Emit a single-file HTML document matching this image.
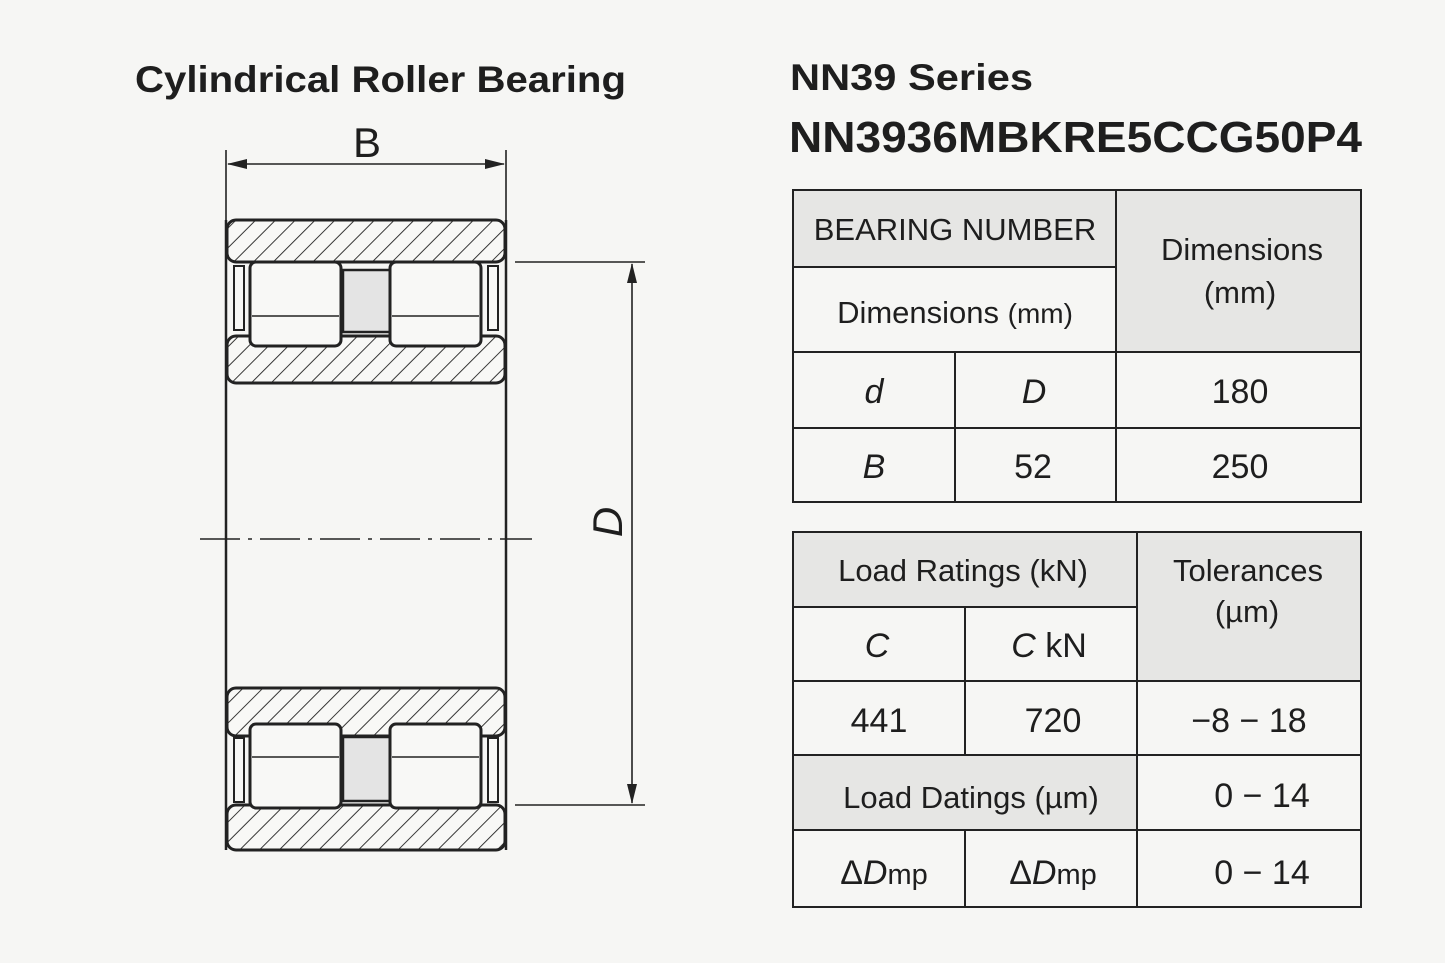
<!DOCTYPE html>
<html><head><meta charset="utf-8"><style>
html,body{margin:0;padding:0;background:#f6f6f4;}
svg{display:block;}
text{font-family:"Liberation Sans",sans-serif;fill:#1e1e1e;}
</style></head><body>
<svg width="1445" height="963" viewBox="0 0 1445 963" xmlns="http://www.w3.org/2000/svg">
<defs>
<pattern id="h" patternUnits="userSpaceOnUse" width="14" height="14" patternTransform="rotate(45)">
<rect width="14" height="14" fill="#f8f8f6"/><line x1="0" y1="0" x2="0" y2="14" stroke="#222" stroke-width="1.8"/>
</pattern>
<marker id="a2" markerWidth="20" markerHeight="10" refX="19" refY="5" orient="auto-start-reverse" markerUnits="userSpaceOnUse"><path d="M0,0 L20,5 L0,10 Z" fill="#222"/></marker>
</defs>
<rect width="1445" height="963" fill="#f6f6f4"/>
<text x="135" y="92" font-size="37" font-weight="bold" textLength="491" lengthAdjust="spacingAndGlyphs">Cylindrical Roller Bearing</text>
<text x="353" y="157" font-size="42">B</text>
<g stroke="#222" stroke-width="1.6" fill="none">
<line x1="226" y1="150" x2="226" y2="220"/><line x1="506" y1="150" x2="506" y2="220"/>
<line x1="515" y1="262" x2="645" y2="262"/><line x1="515" y1="805" x2="645" y2="805"/>
<line x1="200" y1="539" x2="532" y2="539" stroke-dasharray="40,8,4,8"/>
<line x1="226" y1="220" x2="226" y2="850" stroke-width="2.5"/><line x1="506" y1="220" x2="506" y2="850" stroke-width="2.5"/>
</g>
<line x1="228" y1="164" x2="504" y2="164" stroke="#222" stroke-width="1.6" marker-start="url(#a2)" marker-end="url(#a2)"/>
<line x1="632" y1="264" x2="632" y2="803" stroke="#222" stroke-width="1.6" marker-start="url(#a2)" marker-end="url(#a2)"/>
<text transform="translate(622,522) rotate(-90)" font-size="42" font-style="italic" text-anchor="middle">D</text>
<g stroke="#222" stroke-width="3">
<rect x="227" y="220" width="278" height="42" rx="9" fill="url(#h)"/>
<rect x="227" y="336" width="278" height="47" rx="9" fill="url(#h)"/>
<rect x="234" y="266" width="10" height="64" fill="#f8f8f6" stroke-width="2"/>
<rect x="488" y="266" width="10" height="64" fill="#f8f8f6" stroke-width="2"/>
<rect x="343" y="270" width="47" height="62" fill="#e4e4e4" stroke-width="2.5"/>
<rect x="250" y="262" width="91" height="84" rx="6" fill="#f8f8f6"/>
<rect x="390" y="262" width="91" height="84" rx="6" fill="#f8f8f6"/>
<line x1="252" y1="316" x2="339" y2="316" stroke-width="1.5"/><line x1="392" y1="316" x2="479" y2="316" stroke-width="1.5"/>
<rect x="227" y="688" width="278" height="48" rx="9" fill="url(#h)"/>
<rect x="227" y="805" width="278" height="45" rx="9" fill="url(#h)"/>
<rect x="234" y="738" width="10" height="64" fill="#f8f8f6" stroke-width="2"/>
<rect x="488" y="738" width="10" height="64" fill="#f8f8f6" stroke-width="2"/>
<rect x="343" y="737" width="47" height="64" fill="#e4e4e4" stroke-width="2.5"/>
<rect x="250" y="724" width="91" height="84" rx="6" fill="#f8f8f6"/>
<rect x="390" y="724" width="91" height="84" rx="6" fill="#f8f8f6"/>
<line x1="252" y1="757" x2="339" y2="757" stroke-width="1.5"/><line x1="392" y1="757" x2="479" y2="757" stroke-width="1.5"/>
</g>

<text x="790" y="90" font-size="37" font-weight="bold" textLength="243" lengthAdjust="spacingAndGlyphs">NN39 Series</text>
<text x="789" y="152" font-size="44" font-weight="bold" textLength="573" lengthAdjust="spacingAndGlyphs">NN3936MBKRE5CCG50P4</text>

<rect x="793" y="190" width="323" height="77" fill="#e6e6e4"/>
<rect x="1116" y="190" width="245" height="162" fill="#e6e6e4"/>
<g stroke="#222" stroke-width="2" fill="none">
<rect x="793" y="190" width="568" height="312"/>
<line x1="793" y1="267" x2="1116" y2="267"/>
<line x1="1116" y1="190" x2="1116" y2="502"/>
<line x1="793" y1="352" x2="1361" y2="352"/>
<line x1="793" y1="428" x2="1361" y2="428"/>
<line x1="955" y1="352" x2="955" y2="502"/>
</g>
<g font-size="31" text-anchor="middle">
<text x="955" y="240">BEARING NUMBER</text>
<text x="955" y="323">Dimensions <tspan font-size="28">(mm)</tspan></text>
<text x="1242" y="260">Dimensions</text>
<text x="1240" y="303">(mm)</text>
<text x="874" y="403" font-style="italic" font-size="34">d</text>
<text x="1034" y="403" font-style="italic" font-size="34">D</text>
<text x="1240" y="403" font-size="34">180</text>
<text x="874" y="478" font-style="italic" font-size="34">B</text>
<text x="1033" y="478" font-size="34">52</text>
<text x="1240" y="478" font-size="34">250</text>
</g>

<rect x="793" y="532" width="344" height="75" fill="#e6e6e4"/>
<rect x="1137" y="532" width="224" height="149" fill="#e6e6e4"/>
<rect x="793" y="755" width="344" height="75" fill="#e6e6e4"/>
<g stroke="#222" stroke-width="2" fill="none">
<rect x="793" y="532" width="568" height="375"/>
<line x1="793" y1="607" x2="1137" y2="607"/>
<line x1="1137" y1="532" x2="1137" y2="907"/>
<line x1="793" y1="681" x2="1361" y2="681"/>
<line x1="793" y1="755" x2="1361" y2="755"/>
<line x1="793" y1="830" x2="1361" y2="830"/>
<line x1="965" y1="607" x2="965" y2="755"/>
<line x1="965" y1="830" x2="965" y2="907"/>
</g>
<g font-size="31" text-anchor="middle">
<text x="963" y="581">Load Ratings (kN)</text>
<text x="1248" y="581">Tolerances</text>
<text x="1247" y="622">(µm)</text>
<text x="877" y="657" font-style="italic" font-size="34">C</text>
<text x="1049" y="657" font-size="34"><tspan font-style="italic">C</tspan> kN</text>
<text x="879" y="732" font-size="34">441</text>
<text x="1053" y="732" font-size="34">720</text>
<text x="1249" y="732" font-size="34">−8 − 18</text>
<text x="971" y="808">Load Datings (µm)</text>
<text x="1262" y="807" font-size="34">0 − 14</text>
<text x="884" y="884" font-size="34">Δ<tspan font-style="italic">D</tspan><tspan font-size="29">mp</tspan></text>
<text x="1053" y="884" font-size="34">Δ<tspan font-style="italic">D</tspan><tspan font-size="29">mp</tspan></text>
<text x="1262" y="884" font-size="34">0 − 14</text>
</g>
</svg>
</body></html>
